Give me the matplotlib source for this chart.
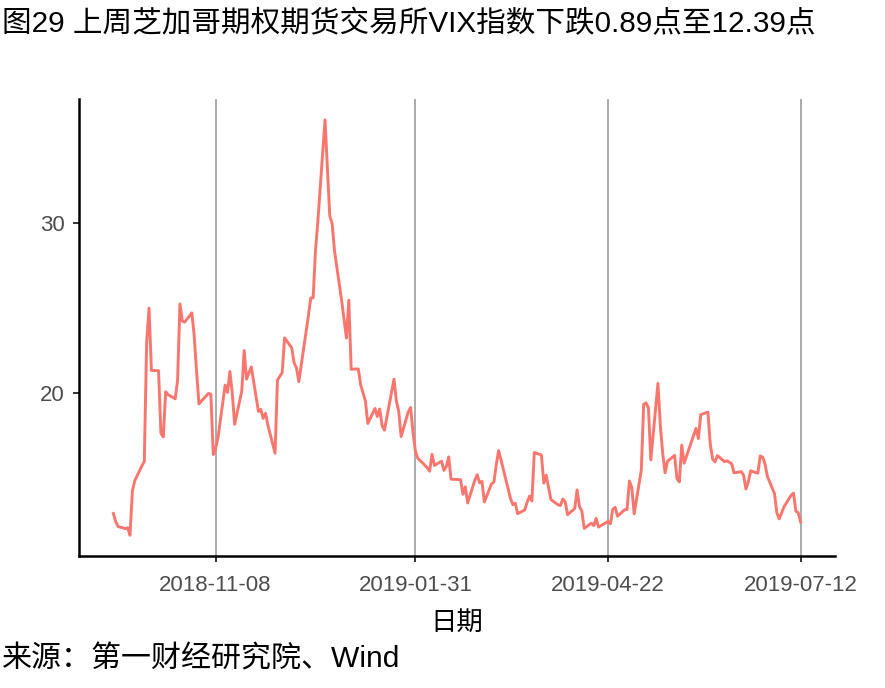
import matplotlib
matplotlib.use("Agg")
import matplotlib.pyplot as plt
import matplotlib.dates as mdates
import pandas as pd

plt.rcParams['font.family'] = ['Liberation Sans', 'Noto Sans CJK SC', 'DejaVu Sans']

# VIX daily close
dates = [
    "2018-09-26", "2018-09-27", "2018-09-28",
    "2018-10-01", "2018-10-02", "2018-10-03", "2018-10-04", "2018-10-05", "2018-10-08", "2018-10-09",
    "2018-10-10", "2018-10-11", "2018-10-12", "2018-10-15", "2018-10-16", "2018-10-17", "2018-10-18",
    "2018-10-19", "2018-10-22", "2018-10-23", "2018-10-24", "2018-10-25", "2018-10-26", "2018-10-29",
    "2018-10-30", "2018-10-31",
    "2018-11-01", "2018-11-02", "2018-11-05", "2018-11-06", "2018-11-07", "2018-11-08", "2018-11-09",
    "2018-11-12", "2018-11-13", "2018-11-14", "2018-11-15", "2018-11-16", "2018-11-19", "2018-11-20",
    "2018-11-21", "2018-11-23", "2018-11-26", "2018-11-27", "2018-11-28", "2018-11-29", "2018-11-30",
    "2018-12-03", "2018-12-04", "2018-12-06", "2018-12-07", "2018-12-10", "2018-12-11", "2018-12-12",
    "2018-12-13", "2018-12-14", "2018-12-17", "2018-12-18", "2018-12-19", "2018-12-20", "2018-12-21",
    "2018-12-24", "2018-12-26", "2018-12-27", "2018-12-28", "2018-12-31",
    "2019-01-02", "2019-01-03", "2019-01-04", "2019-01-07", "2019-01-08", "2019-01-09", "2019-01-10",
    "2019-01-11", "2019-01-14", "2019-01-15", "2019-01-16", "2019-01-17", "2019-01-18", "2019-01-22",
    "2019-01-23", "2019-01-24", "2019-01-25", "2019-01-28", "2019-01-29", "2019-01-30", "2019-01-31",
    "2019-02-01", "2019-02-04", "2019-02-05", "2019-02-06", "2019-02-07", "2019-02-08", "2019-02-11",
    "2019-02-12", "2019-02-13", "2019-02-14", "2019-02-15", "2019-02-19", "2019-02-20", "2019-02-21",
    "2019-02-22", "2019-02-25", "2019-02-26", "2019-02-27", "2019-02-28",
    "2019-03-01", "2019-03-04", "2019-03-05", "2019-03-06", "2019-03-07", "2019-03-08", "2019-03-11",
    "2019-03-12", "2019-03-13", "2019-03-14", "2019-03-15", "2019-03-18", "2019-03-19", "2019-03-20",
    "2019-03-21", "2019-03-22", "2019-03-25", "2019-03-26", "2019-03-27", "2019-03-28", "2019-03-29",
    "2019-04-01", "2019-04-02", "2019-04-03", "2019-04-04", "2019-04-05", "2019-04-08", "2019-04-09",
    "2019-04-10", "2019-04-11", "2019-04-12", "2019-04-15", "2019-04-16", "2019-04-17", "2019-04-18",
    "2019-04-22", "2019-04-23", "2019-04-24", "2019-04-25", "2019-04-26", "2019-04-29", "2019-04-30",
    "2019-05-01", "2019-05-02", "2019-05-03", "2019-05-06", "2019-05-07", "2019-05-08", "2019-05-09",
    "2019-05-10", "2019-05-13", "2019-05-14", "2019-05-15", "2019-05-16", "2019-05-17", "2019-05-20",
    "2019-05-21", "2019-05-22", "2019-05-23", "2019-05-24", "2019-05-28", "2019-05-29", "2019-05-30",
    "2019-05-31",
    "2019-06-03", "2019-06-04", "2019-06-05", "2019-06-06", "2019-06-07", "2019-06-10", "2019-06-11",
    "2019-06-12", "2019-06-13", "2019-06-14", "2019-06-17", "2019-06-18", "2019-06-19", "2019-06-20",
    "2019-06-21", "2019-06-24", "2019-06-25", "2019-06-26", "2019-06-27", "2019-06-28",
    "2019-07-01", "2019-07-02", "2019-07-03", "2019-07-05", "2019-07-08", "2019-07-09", "2019-07-10",
    "2019-07-11", "2019-07-12",
]

vix = [
    12.89, 12.41, 12.12,
    12.00, 12.05, 11.61, 14.22, 14.82, 15.69, 15.95,
    22.96, 24.98, 21.31, 21.30, 17.62, 17.40, 20.06,
    19.89, 19.64, 20.71, 25.23, 24.22, 24.16, 24.70,
    23.35, 21.23,
    19.34, 19.51, 19.96, 19.91, 16.36, 16.72, 17.36,
    20.45, 20.02, 21.25, 19.98, 18.14, 20.10, 22.48,
    20.80, 21.52, 18.90, 19.02, 18.49, 18.79, 18.07,
    16.44, 20.74, 21.19, 23.23, 22.64, 21.76, 21.46,
    20.65, 21.63, 24.52, 25.58, 25.58, 28.38, 30.11,
    36.07, 30.41, 29.96, 28.34, 25.42,
    23.22, 25.45, 21.38, 21.40, 20.47, 19.98, 19.50,
    18.19, 19.07, 18.60, 19.04, 18.06, 17.80, 20.80,
    19.52, 18.89, 17.42, 18.87, 19.13, 17.66, 16.57,
    16.14, 15.73, 15.57, 15.38, 16.37, 15.72, 15.97,
    15.43, 15.65, 16.22, 14.91, 14.88, 14.02, 14.46,
    13.51, 14.85, 15.17, 14.70, 14.78,
    13.57, 14.63, 14.74, 15.74, 16.59, 16.05, 14.33,
    13.77, 13.41, 13.50, 12.88, 13.10, 13.56, 13.91,
    13.63, 16.48, 16.33, 14.68, 15.15, 14.43, 13.71,
    13.40, 13.36, 13.74, 13.58, 12.82, 13.18, 14.28,
    13.30, 13.02, 12.01, 12.32, 12.18, 12.60, 12.09,
    12.42, 12.28, 13.14, 13.25, 12.73, 13.11, 13.12,
    14.80, 14.42, 12.87, 15.44, 19.32, 19.40, 19.10,
    16.04, 20.55, 18.06, 16.44, 15.29, 15.96, 16.31,
    14.95, 14.75, 16.92, 15.85, 17.50, 17.90, 17.30,
    18.71,
    18.86, 16.97, 16.09, 15.93, 16.30, 15.94, 15.99,
    15.91, 15.82, 15.28, 15.35, 15.15, 14.33, 14.75,
    15.40, 15.26, 16.28, 16.21, 15.82, 15.08,
    14.06, 12.93, 12.57, 13.28, 13.96, 14.09, 13.03,
    12.93, 12.39,
]

x_breaks = ["2018-11-08", "2019-01-31", "2019-04-22", "2019-07-12"]
y_breaks = [20, 30]

df = pd.DataFrame({"date": pd.to_datetime(dates), "vix": vix})
brk = pd.to_datetime(x_breaks)

fig = plt.figure(figsize=(8.85, 6.88), dpi=100)
ax = fig.add_axes([79 / 885, 1 - 556 / 688, (835 - 79) / 885, (556 - 99) / 688])

for b in brk:
    ax.axvline(b, color="#ABABAB", linewidth=1.4, zorder=1)
ax.plot(df["date"], df["vix"], color="#F8766D", linewidth=2.1, zorder=2)

# ggplot-style 5% expansion
x0, x1 = mdates.date2num(df["date"].min()), mdates.date2num(df["date"].max())
pad = (x1 - x0) * 0.05
ax.set_xlim(x0 - pad, x1 + pad)
y0, y1 = min(vix), max(vix)
ypad = (y1 - y0) * 0.05
ax.set_ylim(y0 - ypad, y1 + ypad)

ax.set_xticks(brk)
ax.set_xticklabels(x_breaks)
ax.set_yticks(y_breaks)
ax.tick_params(axis="both", colors="#333333", labelcolor="#4D4D4D",
               labelsize=16, length=4, width=1.4)
ax.tick_params(axis="x", pad=10)
ax.tick_params(axis="y", pad=6)

for s in ["top", "right"]:
    ax.spines[s].set_visible(False)
for s in ["left", "bottom"]:
    ax.spines[s].set_linewidth(1.8)
    ax.spines[s].set_color("black")

ax.set_xlabel("日期", fontsize=19, labelpad=10)

fig.text(0.002, 1 - 24 / 688, "图29 上周芝加哥期权期货交易所VIX指数下跌0.89点至12.39点",
         fontsize=21.3, va="center", ha="left")
fig.text(0.002, 1 - 659 / 688, "来源：第一财经研究院、Wind",
         fontsize=21.6, va="center", ha="left")

fig.savefig("out.png", dpi=100)
